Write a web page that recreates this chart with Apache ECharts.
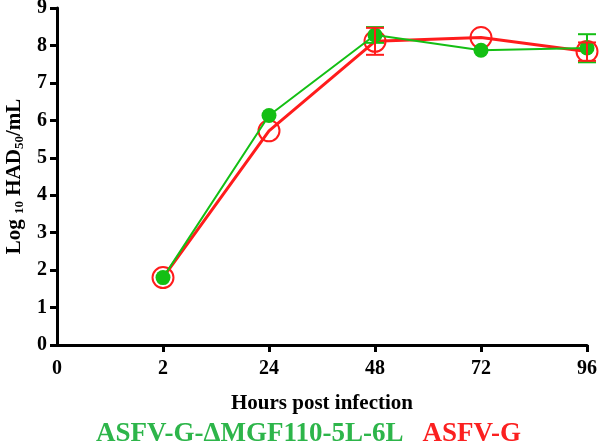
<!DOCTYPE html>
<html>
<head>
<meta charset="utf-8">
<script src="https://cdn.jsdelivr.net/npm/echarts@6/dist/echarts.min.js"></script>
<style>
  html, body { margin: 0; padding: 0; background: #fff; }
  #main { width: 600px; height: 444px; }
</style>
</head>
<body>
<div id="main"></div>
<script>
// hours post infection (first slot is the axis origin, no data)
const hours = ["0", "2", "24", "48", "72", "96"];
const mutantName = "ASFV-G-ΔMGF110-5L-6L";
const parentName = "ASFV-G";
// log10 HAD50/mL
const mutantTiter = [null, 1.8, 6.13, 8.28, 7.87, 7.93];
const parentTiter = [null, 1.8, 5.72, 8.11, 8.21, 7.84];
// error bars [low, high], null where hidden by the marker
const mutantErr = [null, null, null, [8.07, 8.49], null, [7.55, 8.30]];
const parentErr = [null, null, null, [7.75, 8.47], null, [7.59, 8.08]];

const GREEN = "#14bf14";
const RED = "#ff1c1c";
const FONT = "'Liberation Serif', 'Times New Roman', serif";

const chart = echarts.init(document.getElementById("main"));

// error bar custom series
function errSeries(errs, color) {
  const data = [];
  errs.forEach((e, i) => {
    if (e) data.push([i, e[0], e[1]]);
  });
  return {
    type: "custom",
    data: data,
    z: 5,
    renderItem: function (params, api) {
      const lo = api.coord([api.value(0), api.value(1)]);
      const hi = api.coord([api.value(0), api.value(2)]);
      const w = 9;
      const style = { stroke: color, lineWidth: 2 };
      return {
        type: "group",
        children: [
          { type: "line", shape: { x1: lo[0], y1: lo[1], x2: hi[0], y2: hi[1] }, style: style },
          { type: "line", shape: { x1: lo[0] - w, y1: lo[1], x2: lo[0] + w, y2: lo[1] }, style: style },
          { type: "line", shape: { x1: hi[0] - w, y1: hi[1], x2: hi[0] + w, y2: hi[1] }, style: style }
        ]
      };
    }
  };
}

chart.setOption({
  animation: false,
  grid: { left: 57, right: 13, top: 8, bottom: 99, outerBoundsMode: "none" },
  legend: {
    bottom: -9,
    left: 86,
    icon: "none",
    itemWidth: 0,
    itemGap: 14,
    selectedMode: false,
    textStyle: { fontFamily: FONT, fontWeight: "bold", fontSize: 27 },
    data: [
      { name: mutantName, textStyle: { color: "#2db54a" } },
      { name: parentName, textStyle: { color: "#fb2020" } }
    ]
  },
  xAxis: {
    type: "category",
    data: hours,
    boundaryGap: false,
    name: "Hours post infection",
    nameLocation: "middle",
    nameGap: 48,
    nameTextStyle: { fontFamily: FONT, fontWeight: "bold", fontSize: 21, color: "#000" },
    axisLine: { lineStyle: { color: "#000", width: 3 } },
    axisTick: { alignWithLabel: true, length: 7, lineStyle: { width: 3 }, interval: function (i) { return i > 0; } },
    axisLabel: { fontFamily: FONT, fontWeight: "bold", fontSize: 20, color: "#000", margin: 14 },
    splitLine: { show: false }
  },
  yAxis: {
    type: "value",
    min: 0,
    max: 9,
    interval: 1,
    name: "{n|Log }{s|10}{n| HAD}{s|50}{n|/mL}",
    nameLocation: "middle",
    nameGap: 31,
    nameTextStyle: {
      rich: {
        n: { fontFamily: FONT, fontWeight: "bold", fontSize: 21, color: "#000" },
        s: { fontFamily: FONT, fontWeight: "bold", fontSize: 13, color: "#000", padding: [9, 0, 0, 0] }
      }
    },
    axisLine: { show: true, lineStyle: { color: "#000", width: 3 } },
    axisTick: { show: true, length: 7, lineStyle: { width: 3 } },
    axisLabel: { fontFamily: FONT, fontWeight: "bold", fontSize: 20, color: "#000", margin: 10 },
    splitLine: { show: false }
  },
  series: [
    {
      name: parentName,
      type: "line",
      data: parentTiter,
      symbol: "circle",
      symbolSize: 21,
      lineStyle: { color: RED, width: 3 },
      itemStyle: { color: "rgba(255,255,255,0)", borderColor: RED, borderWidth: 2 },
      z: 2
    },
    {
      name: mutantName,
      type: "line",
      data: mutantTiter,
      symbol: "circle",
      symbolSize: 15,
      lineStyle: { color: GREEN, width: 2 },
      itemStyle: { color: GREEN, borderWidth: 0 },
      z: 3
    },
    errSeries(mutantErr, GREEN),
    errSeries(parentErr, RED)
  ]
});
</script>
</body>
</html>
